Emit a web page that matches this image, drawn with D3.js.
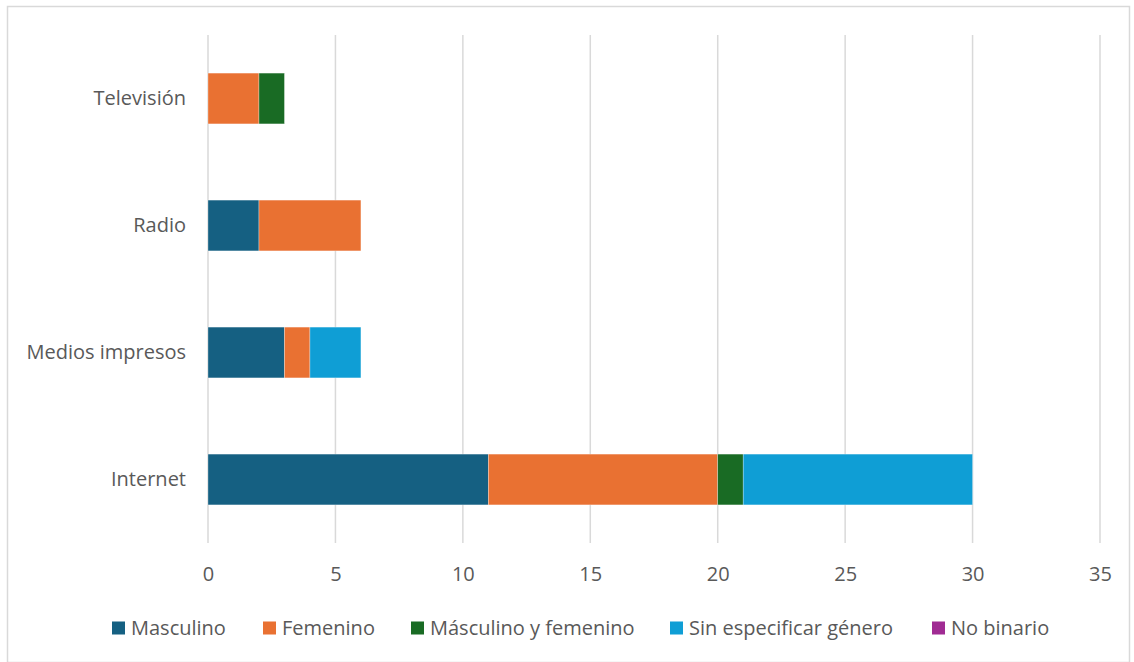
<!DOCTYPE html>
<html>
<head>
<meta charset="utf-8">
<script src="https://cdn.jsdelivr.net/npm/d3@7"></script>
<style>
  body { margin: 0; background: #fff; }
  svg { display: block; font-family: "Open Sans", sans-serif; }
</style>
</head>
<body>
<svg id="chart" width="1134" height="662"></svg>
<script>
// categories top to bottom
var categories = ["Televisión", "Radio", "Medios impresos", "Internet"];
var seriesNames = ["Masculino", "Femenino", "Másculino y femenino", "Sin especificar género", "No binario"];
var seriesColors = ["#156082", "#e97132", "#196b24", "#0f9ed5", "#a02b93"];
var masculino = [0, 2, 3, 11];
var femenino = [2, 4, 1, 9];
var ambos = [1, 0, 0, 1];
var sinEspecificar = [0, 0, 2, 9];
var noBinario = [0, 0, 0, 0];
var xTicks = [0, 5, 10, 15, 20, 25, 30, 35];

var seriesValues = [masculino, femenino, ambos, sinEspecificar, noBinario];

var svg = d3.select("#chart");

// outer chart border
svg.append("rect")
  .attr("x", 7.5).attr("y", 6.5)
  .attr("width", 1122).attr("height", 656)
  .attr("fill", "#fff")
  .attr("stroke", "#d9d9d9")
  .attr("stroke-width", 1.5);

var margin = {top: 35, left: 208};
var width = 1100 - 208, height = 543 - 35;

var x = d3.scaleLinear().domain([0, 35]).range([0, width]);
var y = d3.scaleBand().domain(categories).range([0, height])
  .paddingInner(0.6).paddingOuter(0.3);

var g = svg.append("g").attr("transform", "translate(" + margin.left + "," + margin.top + ")");

// vertical gridlines
g.append("g")
  .selectAll("line")
  .data(xTicks)
  .join("line")
    .attr("x1", d => x(d)).attr("x2", d => x(d))
    .attr("y1", 0).attr("y2", height)
    .attr("stroke", "#d9d9d9")
    .attr("stroke-width", 1.5);

// stacked data
var rows = categories.map((c, i) => {
  var r = {cat: c};
  seriesNames.forEach((s, j) => { r[s] = seriesValues[j][i]; });
  return r;
});
var stack = d3.stack().keys(seriesNames)(rows);

g.append("g")
  .selectAll("g")
  .data(stack)
  .join("g")
    .attr("fill", (d, i) => seriesColors[i])
  .selectAll("rect")
  .data(d => d.filter(p => p[1] - p[0] > 0))
  .join("rect")
    .attr("x", d => x(d[0]))
    .attr("y", d => y(d.data.cat))
    .attr("width", d => x(d[1]) - x(d[0]))
    .attr("height", y.bandwidth())
    .attr("stroke", "#fff")
    .attr("stroke-opacity", 0.5)
    .attr("stroke-width", 0.6);

// x axis labels
var xAxis = g.append("g")
  .attr("transform", "translate(0," + height + ")")
  .call(d3.axisBottom(x).tickValues(xTicks).tickSize(0).tickPadding(24));
xAxis.select(".domain").remove();
xAxis.selectAll("text")
  .attr("fill", "#595959")
  .style("font-size", "20px")
  .style("font-family", "'Open Sans', sans-serif");

// y axis labels
var yAxis = g.append("g")
  .call(d3.axisLeft(y).tickSize(0).tickPadding(22));
yAxis.select(".domain").remove();
yAxis.selectAll("text")
  .attr("fill", "#595959")
  .style("font-size", "20px")
  .style("font-family", "'Open Sans', sans-serif");

// legend
var legendX = [112, 263, 411, 670, 932];
var legend = svg.append("g").attr("transform", "translate(0,628)");
var item = legend.selectAll("g")
  .data(seriesNames)
  .join("g")
    .attr("transform", (d, i) => "translate(" + legendX[i] + ",0)");
item.append("rect")
  .attr("x", 0).attr("y", -6.5)
  .attr("width", 13).attr("height", 13)
  .attr("fill", (d, i) => seriesColors[i]);
item.append("text")
  .attr("x", 19)
  .attr("dy", "0.35em")
  .attr("fill", "#595959")
  .style("font-size", "20px")
  .text(d => d);
</script>
</body>
</html>
